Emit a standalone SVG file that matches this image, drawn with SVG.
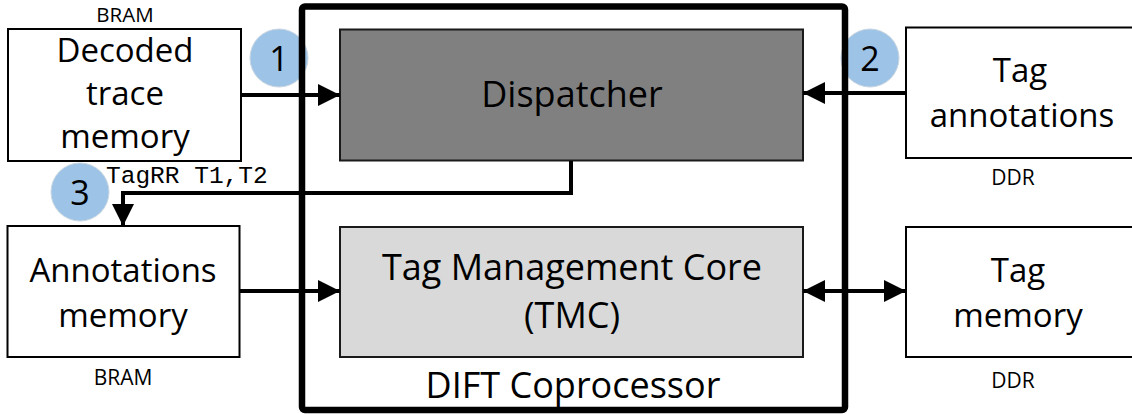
<svg xmlns="http://www.w3.org/2000/svg" width="1132" height="414" viewBox="0 0 1132 414">
  <defs>
    <marker id="head" markerUnits="userSpaceOnUse" markerWidth="22" markerHeight="22" viewBox="0 0 21 21" refX="21" refY="10.5" orient="auto-start-reverse">
      <path d="M0,0 L21,10.5 L0,21 Z" fill="#000"/>
    </marker>
  </defs>
  <style>
    .box { fill: #fff; stroke: #000; stroke-width: 2; }
    .label { font-family: "Open Sans", "Noto Sans", sans-serif; fill: #000; text-anchor: middle; }
    .big { font-size: 36px; }
    .side { font-size: 33px; }
    .mem { font-size: 21px; }
    .top { font-size: 20.5px; }
    .badge circle { fill: #9DC3E6; stroke: #c9d6e2; stroke-width: 1; }
    .badge text { font-family: "Open Sans", "Noto Sans", sans-serif; font-size: 34px; text-anchor: middle; fill: #000; }
    .wire { fill: none; stroke: #000; stroke-width: 4; }
    .code { font-family: "Liberation Mono", "DejaVu Sans Mono", monospace; font-size: 24.5px; fill: #000; }
  </style>

  <!-- step badges -->
  <g id="badges" class="badge">
    <g id="badge-1"><circle cx="279" cy="58" r="29"/><text x="279" y="71">1</text></g>
    <g id="badge-2"><circle cx="870" cy="58" r="29"/><text x="870" y="71">2</text></g>
    <g id="badge-3"><circle cx="80" cy="192" r="29"/><text x="80" y="205">3</text></g>
  </g>

  <!-- coprocessor container -->
  <g id="dift-coprocessor">
    <rect x="302" y="6.5" width="543" height="403.5" rx="3" fill="none" stroke="#000" stroke-width="6.5"/>
    <text class="label big" x="573" y="398">DIFT Coprocessor</text>
  </g>

  <g id="dispatcher">
    <rect x="340" y="29.5" width="463" height="131" fill="#808080" stroke="#1a1a1a" stroke-width="2"/>
    <text class="label big" x="572" y="107">Dispatcher</text>
  </g>

  <g id="tmc">
    <rect x="340" y="227" width="463" height="130" fill="#D9D9D9" stroke="#1a1a1a" stroke-width="2"/>
    <text class="label big" x="572" y="280">Tag Management Core</text>
    <text class="label big" x="572" y="328">(TMC)</text>
  </g>

  <g id="decoded-trace-memory">
    <text class="label top" x="125" y="22">BRAM</text>
    <rect class="box" x="8" y="29" width="233" height="132"/>
    <text class="label side" x="125" y="62">Decoded</text>
    <text class="label side" x="125" y="105">trace</text>
    <text class="label side" x="125" y="148">memory</text>
  </g>

  <g id="annotations-memory">
    <rect class="box" x="7.5" y="226" width="232" height="131"/>
    <text class="label side" x="123" y="282">Annotations</text>
    <text class="label side" x="123" y="327">memory</text>
    <text class="label mem" x="123" y="385">BRAM</text>
  </g>

  <g id="tag-annotations">
    <rect class="box" x="906" y="27.5" width="240" height="130.5"/>
    <text class="label side" x="1020" y="82">Tag</text>
    <text class="label side" x="1022" y="127">annotations</text>
    <text class="label mem" x="1013" y="185">DDR</text>
  </g>

  <g id="tag-memory">
    <rect class="box" x="906" y="227" width="240" height="130"/>
    <text class="label side" x="1018" y="282">Tag</text>
    <text class="label side" x="1018" y="327">memory</text>
    <text class="label mem" x="1013" y="388">DDR</text>
  </g>

  <!-- connectors -->
  <g id="connectors">
    <line class="wire" x1="241" y1="95" x2="340" y2="95" marker-end="url(#head)"/>
    <line class="wire" x1="906" y1="93" x2="803" y2="93" marker-end="url(#head)"/>
    <path class="wire" d="M571,161 V193 H123 V226" marker-end="url(#head)"/>
    <text class="code" x="106" y="183">TagRR T1,T2</text>
    <line class="wire" x1="240" y1="291" x2="340" y2="291" marker-end="url(#head)"/>
    <line class="wire" x1="803" y1="291" x2="906" y2="291" marker-start="url(#head)" marker-end="url(#head)"/>
  </g>
</svg>
